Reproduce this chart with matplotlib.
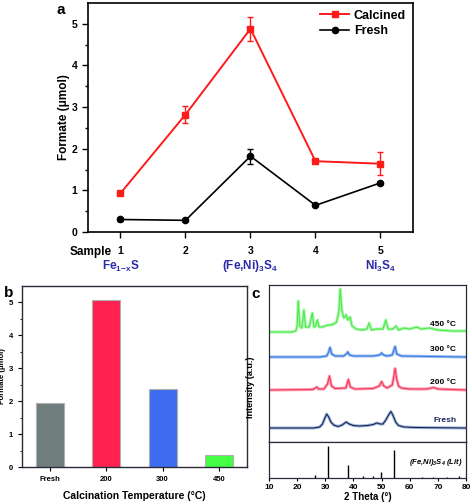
import numpy as np
import matplotlib
matplotlib.use("Agg")
import matplotlib.pyplot as plt

plt.rcParams["font.family"] = ["Liberation Sans", "DejaVu Sans"]
plt.rcParams["font.weight"] = "bold"
plt.rcParams["mathtext.default"] = "regular"

# -------------------------
# Data
# -------------------------
# panel a
samples = [1, 2, 3, 4, 5]
calcined = [0.93, 2.82, 4.88, 1.70, 1.64]
calcined_err = [0.05, 0.20, 0.29, 0.03, 0.28]
fresh = [0.30, 0.28, 1.82, 0.64, 1.18]
fresh_err = [0.03, 0.02, 0.18, 0.02, 0.03]
sample_names = {1: "Fe$_{1{-}x}$S", 3: "(Fe,Ni)$_3$S$_4$", 5: "Ni$_3$S$_4$"}

# panel b
temps = ["Fresh", "200", "300", "450"]
formate_b = [1.93, 5.08, 2.36, 0.38]
bar_colors = ["#6f7d7d", "#ff2150", "#3d6cf0", "#44ff44"]

# panel c: XRD traces as (2theta, intensity above baseline)
tt_fresh = [10, 26, 28, 29, 30, 30.5, 31.2, 32, 33, 34.5, 36, 37.4, 38.5, 40, 42, 45, 47,
            48.3, 49.5, 50.5, 51.5, 52.5, 53.3, 54, 55, 56, 58, 62, 80]
i_fresh = [0, 0, 1, 4, 11, 14, 11, 6, 3, 1.5, 3, 6, 4, 2.5, 2, 2.5, 3.5,
           5, 4, 4, 8, 13, 16.5, 13, 6, 2.5, 1, 0.5, 0]
tt_200 = [10, 25.5, 26.5, 27.0, 27.6, 29.5, 30.8, 31.5, 32.2, 33.5, 37.3, 38.2, 38.9, 40.5,
          47, 49.2, 50.0, 50.8, 52, 53.8, 54.4, 54.8, 55.3, 56, 57, 60, 66, 68.5, 70, 80]
i_200 = [0, 0.5, 2, 3, 1, 1, 6, 14, 4, 1.5, 2, 10.5, 3, 1,
         1.5, 4, 8.5, 4, 2, 5, 14, 21.5, 12, 4, 2, 1, 1, 2.5, 1, 0]
tt_300 = [10, 28, 30.5, 31.2, 31.7, 32.3, 33.5, 36.5, 37.5, 38.0, 38.6, 40, 47, 49.3, 50.0,
          50.7, 52, 53.8, 54.4, 54.8, 55.4, 57, 80]
i_300 = [0, 0, 1, 5, 9.5, 3, 1, 1, 3, 5, 2, 1, 1, 2, 4,
         2, 1, 2, 7, 10.5, 3, 1, 0]
tt_450 = [10, 18, 19.5, 20.0, 20.4, 20.9, 21.7, 22.4, 23.0, 24.3, 25.4, 26.0, 26.6, 27.2,
          27.8, 29, 30, 31, 32, 33, 34, 34.8, 35.3, 35.9, 36.6, 37.4, 38.0, 38.8, 39.5, 41,
          43, 44.8, 45.6, 46.4, 48, 50.5, 51.5, 52.3, 54, 55.2, 56, 58, 60, 62.5, 64, 67,
          70, 75, 80]
i_450 = [0, 0, 1, 6, 31, 6, 4, 22, 5, 5, 19, 5, 6, 12,
         5, 5, 6, 7, 7, 8, 10, 20, 43, 22, 14, 17, 12, 15, 6, 3,
         2, 3, 9, 2, 3, 3, 12, 3, 3, 6, 2, 4, 3, 5, 3, 4,
         2, 1, 1]
offsets = {"Fresh": 14, "200 °C": 52, "300 °C": 85, "450 °C": 110}

# reference sticks (Fe,Ni)3S4
lit_pos = [26.3, 31.1, 38.0, 43.3, 47.1, 49.7, 54.5, 64.3, 68.3, 73.1, 77.5]
lit_int = [0.09, 0.88, 0.35, 0.05, 0.06, 0.18, 0.79, 0.03, 0.04, 0.04, 0.06]

fig = plt.figure(figsize=(4.72, 5.04), dpi=100)

# -------------------------
# Panel a
# -------------------------
ax = fig.add_axes([0.1864, 0.5397, 0.6886, 0.4544])
ax.errorbar(samples, calcined, yerr=calcined_err, fmt="none", ecolor="#ff1a1a",
            capsize=2.5, elinewidth=1)
ax.errorbar(samples, fresh, yerr=fresh_err, fmt="none", ecolor="black",
            capsize=2.5, elinewidth=1)
ax.plot(samples, calcined, color="#ff1a1a", marker="s", ms=4.5, lw=1.4, label="Calcined")
ax.plot(samples, fresh, color="black", marker="o", ms=4.5, lw=1.2, label="Fresh")
ax.set_xlim(0.5, 5.5)
ax.set_ylim(0, 5.5)
ax.set_xticks(samples)
ax.set_yticks([0, 1, 2, 3, 4, 5])
ax.set_yticks(np.arange(0.5, 5.5, 1.0), minor=True)
ax.tick_params(axis="both", direction="out", labelsize=7.5, width=1, length=4)
ax.tick_params(axis="x", pad=6)
ax.tick_params(axis="y", which="minor", length=2.5, width=1)
for s in ax.spines.values():
    s.set_linewidth(1.2)
ax.set_ylabel("Formate (μmol)", fontsize=8.5, fontweight="bold", labelpad=1)
leg = ax.legend(loc="upper right", frameon=False, fontsize=9, handlelength=2.3,
                borderaxespad=0.15, labelspacing=0.25, handletextpad=0.4)
ax.text(-0.07, 1.0, "a", transform=ax.transAxes, fontsize=11, fontweight="bold",
        va="top", ha="right")
ax.text(-0.058, -0.087, "Sample", transform=ax.transAxes, fontsize=8.5, fontweight="bold",
        va="center", ha="left")
for k, name in sample_names.items():
    ax.text(k, -0.82, name, fontsize=8.5, fontweight="bold", color="#2b2ba8",
            ha="center", va="center", transform=ax.transData, clip_on=False)

# -------------------------
# Panel b
# -------------------------
axb = fig.add_axes([0.0466, 0.0734, 0.4767, 0.3591])
axb.bar(range(len(temps)), formate_b, width=0.5, color=bar_colors,
        edgecolor="#b0b0b0", linewidth=0.8)
axb.set_xlim(-0.5, 3.5)
axb.set_ylim(0, 5.5)
axb.set_xticks(range(len(temps)))
axb.set_xticklabels(temps)
axb.set_yticks([0, 1, 2, 3, 4, 5])
axb.set_yticks(np.arange(0.5, 5.5, 1.0), minor=True)
axb.tick_params(axis="both", direction="out", labelsize=5.5, width=0.8, length=3)
axb.tick_params(axis="y", which="minor", length=1.8)
for s in axb.spines.values():
    s.set_linewidth(1.0)
    s.set_color("#2a2a3a")
axb.set_ylabel("Formate (μmol)", fontsize=5.5, fontweight="bold", labelpad=2)
axb.set_xlabel("Calcination Temperature (°C)", fontsize=7.5, fontweight="bold", labelpad=6)
axb.text(-0.06, 1.0, "b", transform=axb.transAxes, fontsize=11, fontweight="bold",
         va="top", ha="center")

# -------------------------
# Panel c
# -------------------------
axc = fig.add_axes([0.5699, 0.123, 0.4174, 0.3115])
traces = [
    ("Fresh", tt_fresh, i_fresh, "#1c2450", "#9fb8e0"),
    ("200 °C", tt_200, i_200, "#f03a60", "#ff9fb0"),
    ("300 °C", tt_300, i_300, "#3a78e0", "#9ec0f0"),
    ("450 °C", tt_450, i_450, "#50e850", "#a8f8a8"),
]
for name, tt, ii, col, halo in traces:
    y = np.array(ii) + offsets[name]
    axc.plot(tt, y, color=halo, lw=2.2, solid_joinstyle="round")
    axc.plot(tt, y, color=col, lw=0.8)
    axc.text(76.5, offsets[name] + 8, name, fontsize=6, fontweight="bold",
             color="#1c2460" if name == "Fresh" else "black", ha="right", va="center")
axc.set_xlim(10, 80)
axc.set_ylim(0, 157)
axc.set_xticks([])
axc.set_yticks([])
for s in axc.spines.values():
    s.set_linewidth(0.9)
    s.set_color("#2a2a3a")
axc.set_ylabel("Intensity (a.u.)", fontsize=6.5, fontweight="bold", labelpad=3)
axc.yaxis.set_label_coords(-0.07, 0.35)
axc.text(-0.045, 0.99, "c", transform=axc.transAxes, fontsize=11, fontweight="bold",
         va="top", ha="right")

axl = fig.add_axes([0.5699, 0.0516, 0.4174, 0.0714])
axl.vlines(lit_pos, 0, lit_int, color="black", lw=1.0)
axl.set_xlim(10, 80)
axl.set_ylim(0, 1)
axl.set_yticks([])
axl.set_xticks([10, 20, 30, 40, 50, 60, 70, 80])
axl.tick_params(axis="x", direction="out", labelsize=6, width=0.8, length=2.5, pad=1.5)
for s in axl.spines.values():
    s.set_linewidth(0.9)
    s.set_color("#2a2a3a")
axl.text(0.985, 0.42, "(Fe,Ni)$_3$S$_4$ (Lit)", transform=axl.transAxes, fontsize=5.5,
         fontweight="bold", style="italic", ha="right", va="center")
axl.set_xlabel("2 Theta (°)", fontsize=7, fontweight="bold", labelpad=1)

fig.savefig("out.png", dpi=100)
